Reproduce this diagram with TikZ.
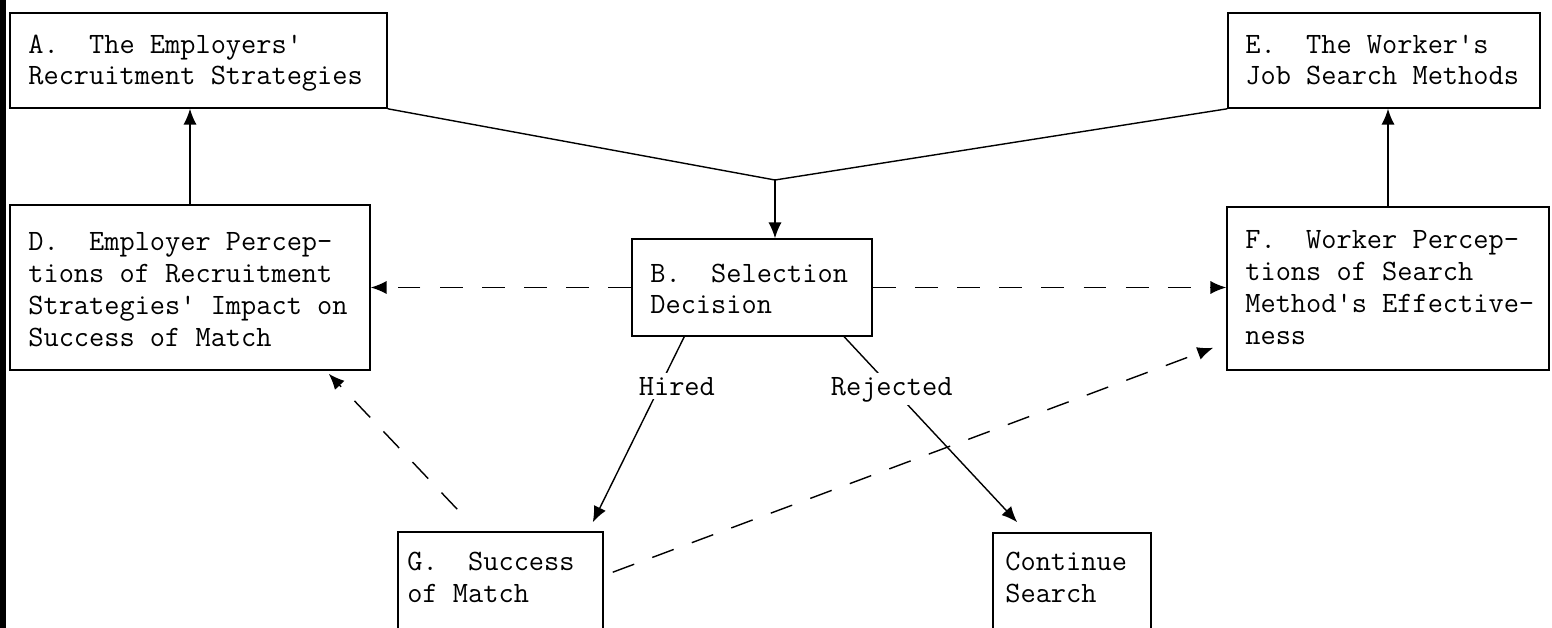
\documentclass[tikz,border=0pt]{standalone}
\usepackage{fontspec}
\usetikzlibrary{arrows.meta,fit,calc}
\begin{document}
\begin{tikzpicture}[x=0.02cm,y=-0.02cm,
  box/.style={draw, line width=0.9pt, inner sep=0pt, rectangle},
  txt/.style={anchor=base west, inner sep=0pt, align=left, font=\fontsize{16.8}{18.1}\selectfont\ttfamily},
  lbl/.style={txt, fill=white, inner sep=2pt},
  conn/.style={line width=0.8pt},
  arr/.style={conn, -{Latex[length=9pt,width=7.5pt]}},
  dsh/.style={arr, dash pattern=on 13pt off 11pt}]
\useasboundingbox (0,0) rectangle (1552,628);
\clip (0,0) rectangle (1552,628);
\fill[black] (0,0) rectangle (6,628);
% boxes
\node[box, fit={(10,13) (387,108)}] (A) {};
\node[box, fit={(1228,13) (1540,108)}] (E) {};
\node[box, fit={(10,205) (370,370)}] (D) {};
\node[box, fit={(1227,207) (1549,370)}] (F) {};
\node[box, fit={(632,239) (872,336)}] (B) {};
\node[box, fit={(398,532) (603,660)}] (G) {};
\node[box, fit={(993,533) (1151,660)}] (C) {};
% texts (anchor = baseline of last line)
\node[txt] (tA) at (28,85) {A.~~The Employers'\\Recruitment Strategies};
\node[txt] (tE) at (1245,85) {E.~~The Worker's\\Job Search Methods};
\node[txt] (tD) at (28,346) {D.~~Employer Percep-\\tions of Recruitment\\Strategies' Impact on\\Success of Match};
\node[txt] (tF) at (1245,344) {F.~~Worker Percep-\\tions of Search\\Method's Effective-\\ness};
\node[txt] (tB) at (650,314) {B.~~Selection\\Decision};
\node[txt] (tG) at (407,602) {G.~~Success\\of Match};
\node[txt] (tC) at (1005,602) {Continue\\Search};
% connectors
\coordinate (J) at (775,180);
\draw[conn] (A.south east) -- (J) -- (E.south west);
\draw[arr] (J) -- (J |- B.north);
\draw[arr] (D.north) -- (D.north |- A.south);
\draw[arr] (F.north) -- (F.north |- E.south);
\draw[dsh] (B.west) -- (B.west -| D.east);
\draw[dsh] (B.east) -- (B.east -| F.west);
\draw[arr] ($(B.south west)+(53,0)$) -- ($(G.north east)+(-11,-9)$);
\draw[arr] ($(B.south west)+(213,0)$) -- ($(C.north west)+(25,-10)$);
\draw[dsh] ($(G.north west)+(60,-22)$) -- ($(D.south east)+(-42,3)$);
\draw[dsh] ($(G.north east)+(9,41)$) -- ($(F.south west)+(-13,-23)$);
% labels
\node[lbl] (hired) at (635,395) {Hired};
\node[lbl] (rej) at (827,395) {Rejected};
\end{tikzpicture}
\end{document}
